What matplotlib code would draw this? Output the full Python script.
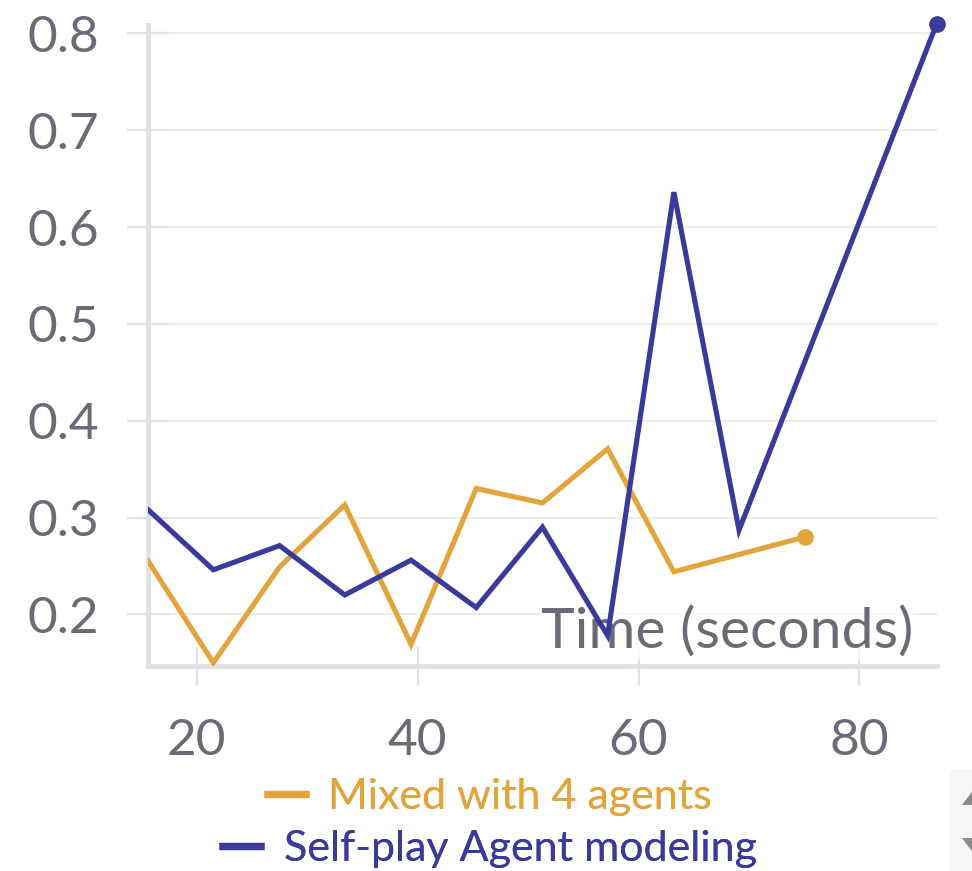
import matplotlib
matplotlib.use("Agg")
import matplotlib.pyplot as plt
from matplotlib.lines import Line2D
from matplotlib.patches import Rectangle, Polygon
import numpy as np

plt.rcParams['font.family'] = ['Lato', 'DejaVu Sans']

# Sample times (seconds); None marks a missing reading
times = [15.6, 21.5, 27.5, 33.4, 39.4, 45.3, 51.3, 57.2, 63.2, 69.1, 75.1, 81.0, 87.0]
mixed_4_agents = [0.255, 0.150, 0.249, 0.313, 0.169, 0.330, 0.315, 0.371, 0.244, None, 0.280, None, None]
self_play_modeling = [0.308, 0.246, 0.271, 0.220, 0.256, 0.207, 0.290, 0.178, 0.636, 0.287, None, None, 0.810]

series_names = ["Mixed with 4 agents", "Self-play Agent modeling"]
series_values = [mixed_4_agents, self_play_modeling]
series_colors = ["#E2A53E", "#3A3A9A"]

x_ticks = [20, 40, 60, 80]
y_ticks = [0.2, 0.3, 0.4, 0.5, 0.6, 0.7, 0.8]
x_title = "Time (seconds)"

label_gray = "#6B6B78"
axis_gray = "#E2E2E6"
grid_gray = "#EDEDF0"

fig = plt.figure(figsize=(9.72, 8.71), dpi=100)
ax = fig.add_axes([0.152, 0.2354, 0.8117, 0.7359])

for vals, color in zip(series_values, series_colors):
    xs = [t for t, v in zip(times, vals) if v is not None]
    ys = [v for v in vals if v is not None]
    ax.plot(xs, ys, color=color, lw=3.7, solid_joinstyle='miter', zorder=3)
    ax.plot(xs[-1:], ys[-1:], 'o', color=color, ms=11, zorder=4, clip_on=False)

ax.set_xlim(15.56, 87.0)
ax.set_ylim(0.1467, 0.8086)
ax.set_xticks(x_ticks)
ax.set_yticks(y_ticks)
ax.set_yticklabels([f"{v:.1f}" for v in y_ticks])

ax.grid(axis='y', color=grid_gray, lw=1.6, zorder=0)
ax.set_axisbelow(True)

for side in ['top', 'right']:
    ax.spines[side].set_visible(False)
for side in ['left', 'bottom']:
    ax.spines[side].set_color(axis_gray)
    ax.spines[side].set_linewidth(3.5)

ax.tick_params(axis='both', direction='inout', color=axis_gray, width=1.6,
               labelcolor=label_gray, labelsize=37)
ax.tick_params(axis='y', length=30, pad=20)
ax.tick_params(axis='x', length=27, pad=24)

ax.text(0.9703, 0.028, x_title, transform=ax.transAxes, ha='right', va='baseline',
        fontsize=41, color=label_gray, zorder=2,
        bbox=dict(facecolor='white', edgecolor='none', alpha=0.7, pad=1))

# Legend rows, each centred under the chart with coloured labels
row_y = [0.0850, 0.0253]
for name, color, y in zip(series_names, series_colors, row_y):
    handle = Line2D([], [], color=color, lw=5.2, solid_capstyle='butt')
    leg = fig.legend([handle], [name], loc='center', bbox_to_anchor=(0.502, y),
                     frameon=False, fontsize=31, handlelength=1.05,
                     handletextpad=0.45, borderpad=0, labelcolor=color)
    fig.add_artist(leg)

# Scroll control at the lower right
fig.patches.append(Rectangle((950 / 972, 0), 22 / 972, 101 / 871,
                             transform=fig.transFigure, facecolor='#F6F6F6',
                             edgecolor='none'))
up = np.array([[962, 805], [977, 785], [992, 805]], dtype=float)
down = np.array([[962, 838], [977, 858], [992, 838]], dtype=float)
for tri in (up, down):
    pts = np.column_stack([tri[:, 0] / 972, 1 - tri[:, 1] / 871])
    fig.patches.append(Polygon(pts, closed=True, transform=fig.transFigure,
                               facecolor='#8A8A8A', edgecolor='none'))

fig.savefig("out.png", dpi=100, facecolor='white')
